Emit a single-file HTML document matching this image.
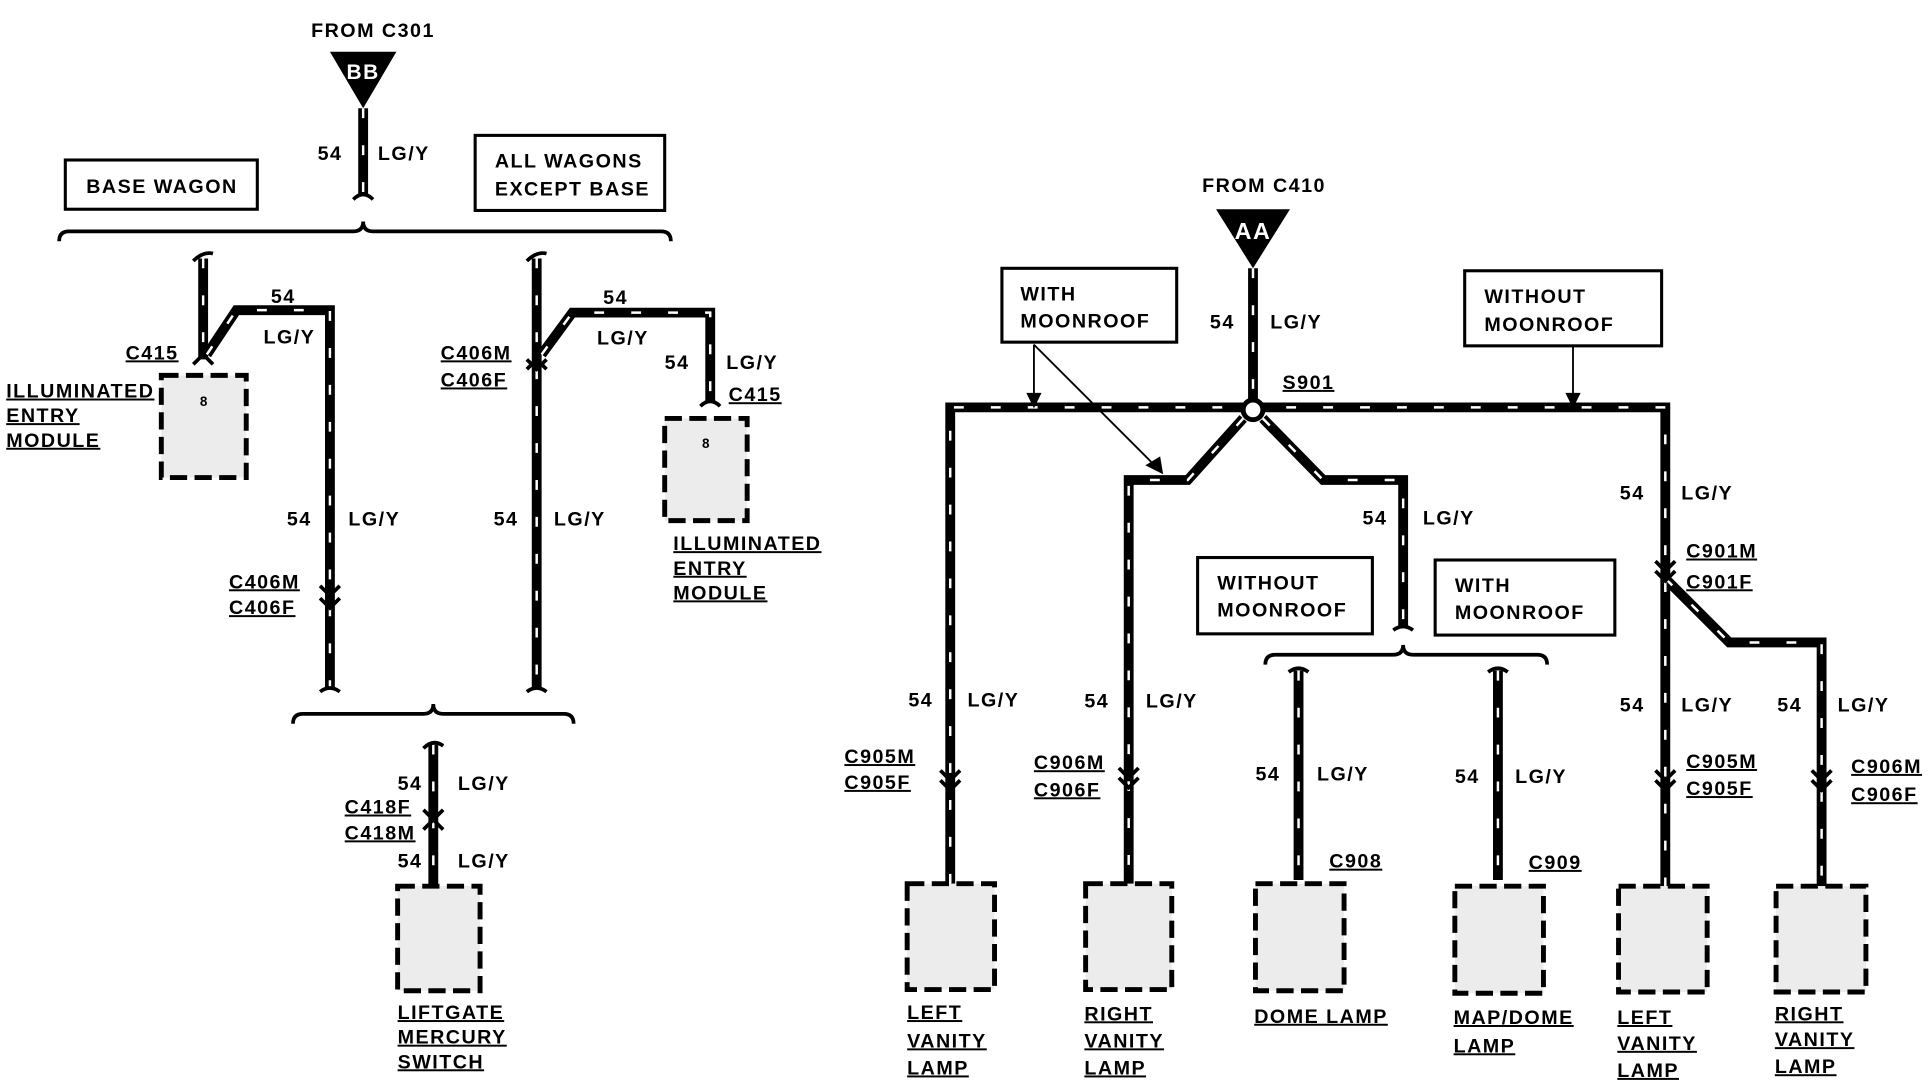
<!DOCTYPE html>
<html><head><meta charset="utf-8"><style>
html,body{margin:0;padding:0;background:#fff;}
svg{display:block;}
text{font-family:"Liberation Sans",Arial,sans-serif;font-weight:bold;font-size:16px;fill:#000;letter-spacing:1.2px;}
.u{text-decoration:underline;}
.w{fill:none;stroke:#000;stroke-width:8;stroke-linejoin:miter;}
.d{fill:none;stroke:#fff;stroke-width:2;stroke-dasharray:8 22;}
.bx{fill:#fff;stroke:#000;stroke-width:2.5;}
.m{fill:#ececec;stroke:#000;stroke-width:4;stroke-dasharray:14 6;}
.br{fill:none;stroke:#000;stroke-width:3;}
.c{fill:none;stroke:#000;stroke-width:3;}
</style></head><body>
<svg width="1930" height="1088" viewBox="0 0 1568 884" xmlns="http://www.w3.org/2000/svg">
<defs>
<path id="w1" d="M295,88 V158"/>
<path id="w2" d="M165,210 V292"/>
<path id="w3" d="M168,288 L192,252 H268 V560"/>
<path id="w4" d="M436,210 V560"/>
<path id="w5" d="M440,288 L465,254 H577 V326"/>
<path id="w6" d="M352,605 V720"/>
<path id="w7" d="M1018,218 V325"/>
<path id="w8" d="M772,718 V331 H1353 V720"/>
<path id="w9" d="M1010,340 L965,390 H917 V718"/>
<path id="w10" d="M1026,340 L1075,390 H1140 V510"/>
<path id="w11" d="M1055,545 V715"/>
<path id="w12" d="M1217,545 V715"/>
<path id="w13" d="M1353,470 L1405,522 H1480 V720"/>
</defs>
<g class="w"><use href="#w1"/><use href="#w2"/><use href="#w3"/><use href="#w4"/><use href="#w5"/><use href="#w6"/><use href="#w7"/><use href="#w8"/><use href="#w9"/><use href="#w10"/><use href="#w11"/><use href="#w12"/><use href="#w13"/></g>
<g class="d"><use href="#w1"/><use href="#w2"/><use href="#w3"/><use href="#w4"/><use href="#w5"/><use href="#w6"/><use href="#w7"/><use href="#w8"/><use href="#w9"/><use href="#w10"/><use href="#w11"/><use href="#w12"/><use href="#w13"/></g>

<g class="c">
<path d="M287,162 Q295,154 303,162"/>
<path d="M157,212 Q165,204 173,206"/>
<path d="M157,296 L165,288 L173,296"/>
<path d="M428,212 Q436,204 444,206"/>
<path d="M428,292 L436,300 L444,292 M428,300 L436,292 L444,300"/>
<path d="M569,330 Q577,322 585,330"/>
<path d="M260,476 L268,484 L276,476 M260,486 L268,494 L276,486"/>
<path d="M260,562 Q268,556 276,562 M428,562 Q436,556 444,562"/>
<path d="M344,608 Q352,600 360,606"/>
<path d="M344,658 L352,666 L360,658 M344,674 L352,666 L360,674"/>
<path d="M764,626 L772,634 L780,626 M764,634 L772,642 L780,634"/>
<path d="M909,624 L917,632 L925,624 M909,632 L917,640 L925,632"/>
<path d="M1132,512 Q1140,506 1148,512"/>
<path d="M1047,546 Q1055,540 1063,546 M1209,546 Q1217,540 1225,546"/>
<path d="M1345,456 L1353,464 L1361,456 M1345,464 L1353,472 L1361,464"/>
<path d="M1345,626 L1353,634 L1361,626 M1345,634 L1353,642 L1361,634"/>
<path d="M1472,626 L1480,634 L1488,626 M1472,634 L1480,642 L1488,634"/>
</g>

<polygon points="268,42 322,42 295,88" fill="#000"/>
<text x="295" y="64" text-anchor="middle" style="fill:#fff;font-size:17px">BB</text>
<polygon points="988,170 1048,170 1018,218" fill="#000"/>
<text x="1018" y="194" text-anchor="middle" style="fill:#fff;font-size:19px">AA</text>
<text x="303" y="30" text-anchor="middle">FROM C301</text>
<text x="1027" y="156" text-anchor="middle">FROM C410</text>

<path class="br" d="M48,196 Q48,188 56,188 H287 Q295,188 295,180 Q295,188 303,188 H537 Q545,188 545,196"/>
<path class="br" d="M238,588 Q238,580 246,580 H344 Q352,580 352,572 Q352,580 360,580 H458 Q466,580 466,588"/>
<path class="br" d="M1028,540 Q1028,532 1036,532 H1132 Q1140,532 1140,524 Q1140,532 1148,532 H1249 Q1257,532 1257,540"/>

<rect class="bx" x="53" y="130" width="156" height="40"/><text x="70" y="157">BASE WAGON</text>
<rect class="bx" x="386" y="110" width="154" height="61"/><text x="402" y="136">ALL WAGONS</text><text x="402" y="159">EXCEPT BASE</text>
<rect class="bx" x="814" y="218" width="142" height="60"/><text x="829" y="244">WITH</text><text x="829" y="266">MOONROOF</text>
<rect class="bx" x="1190" y="220" width="160" height="61"/><text x="1206" y="246">WITHOUT</text><text x="1206" y="269">MOONROOF</text>
<rect class="bx" x="973" y="453" width="142" height="62"/><text x="989" y="479">WITHOUT</text><text x="989" y="501">MOONROOF</text>
<rect class="bx" x="1166" y="455" width="146" height="61"/><text x="1182" y="481">WITH</text><text x="1182" y="503">MOONROOF</text>

<g stroke="#000" stroke-width="1.5" fill="#000">
<line x1="840" y1="280" x2="840" y2="322"/><polygon points="835,320 845,320 840,330"/>
<line x1="840" y1="280" x2="938" y2="378"/><polygon points="932,378 942,372 944,384"/>
<line x1="1278" y1="281" x2="1278" y2="322"/><polygon points="1273,320 1283,320 1278,330"/>
</g>
<circle cx="1018" cy="333" r="8" fill="#fff" stroke="#000" stroke-width="4"/>

<rect class="m" x="131" y="305" width="69" height="83"/><text x="166" y="330" text-anchor="middle" style="font-size:11px">8</text>
<rect class="m" x="540" y="340" width="67" height="83"/><text x="574" y="364" text-anchor="middle" style="font-size:11px">8</text>
<rect class="m" x="323" y="720" width="67" height="85"/>
<rect class="m" x="737" y="718" width="71" height="86"/>
<rect class="m" x="882" y="718" width="70" height="86"/>
<rect class="m" x="1020" y="718" width="72" height="87"/>
<rect class="m" x="1182" y="720" width="72" height="87"/>
<rect class="m" x="1315" y="720" width="72" height="86"/>
<rect class="m" x="1443" y="720" width="73" height="86"/>

<text x="258" y="130">54</text><text x="307" y="130">LG/Y</text>
<text x="220" y="246">54</text><text x="214" y="279">LG/Y</text>
<text x="102" y="292" class="u">C415</text>
<text x="5" y="323" class="u">ILLUMINATED</text><text x="5" y="343" class="u">ENTRY</text><text x="5" y="363" class="u">MODULE</text>
<text x="233" y="427">54</text><text x="283" y="427">LG/Y</text>
<text x="186" y="478" class="u">C406M</text><text x="186" y="499" class="u">C406F</text>
<text x="490" y="247">54</text><text x="485" y="280">LG/Y</text>
<text x="540" y="300">54</text><text x="590" y="300">LG/Y</text>
<text x="592" y="326" class="u">C415</text>
<text x="358" y="292" class="u">C406M</text><text x="358" y="314" class="u">C406F</text>
<text x="401" y="427">54</text><text x="450" y="427">LG/Y</text>
<text x="547" y="447" class="u">ILLUMINATED</text><text x="547" y="467" class="u">ENTRY</text><text x="547" y="487" class="u">MODULE</text>
<text x="323" y="642">54</text><text x="372" y="642">LG/Y</text>
<text x="280" y="661" class="u">C418F</text><text x="280" y="682" class="u">C418M</text>
<text x="323" y="705">54</text><text x="372" y="705">LG/Y</text>
<text x="323" y="828" class="u">LIFTGATE</text><text x="323" y="848" class="u">MERCURY</text><text x="323" y="868" class="u">SWITCH</text>

<text x="983" y="267">54</text><text x="1032" y="267">LG/Y</text>
<text x="1042" y="316" class="u">S901</text>
<text x="1107" y="426">54</text><text x="1156" y="426">LG/Y</text>
<text x="1316" y="406">54</text><text x="1366" y="406">LG/Y</text>
<text x="1370" y="453" class="u">C901M</text><text x="1370" y="478" class="u">C901F</text>
<text x="738" y="574">54</text><text x="786" y="574">LG/Y</text>
<text x="686" y="620" class="u">C905M</text><text x="686" y="641" class="u">C905F</text>
<text x="881" y="575">54</text><text x="931" y="575">LG/Y</text>
<text x="840" y="625" class="u">C906M</text><text x="840" y="647" class="u">C906F</text>
<text x="1020" y="634">54</text><text x="1070" y="634">LG/Y</text>
<text x="1080" y="705" class="u">C908</text>
<text x="1182" y="636">54</text><text x="1231" y="636">LG/Y</text>
<text x="1242" y="706" class="u">C909</text>
<text x="1316" y="578">54</text><text x="1366" y="578">LG/Y</text>
<text x="1370" y="624" class="u">C905M</text><text x="1370" y="646" class="u">C905F</text>
<text x="1444" y="578">54</text><text x="1493" y="578">LG/Y</text>
<text x="1504" y="628" class="u">C906M</text><text x="1504" y="651" class="u">C906F</text>

<text x="737" y="828" class="u">LEFT</text><text x="737" y="851" class="u">VANITY</text><text x="737" y="873" class="u">LAMP</text>
<text x="881" y="829" class="u">RIGHT</text><text x="881" y="851" class="u">VANITY</text><text x="881" y="873" class="u">LAMP</text>
<text x="1019" y="831" class="u">DOME LAMP</text>
<text x="1181" y="832" class="u">MAP/DOME</text><text x="1181" y="855" class="u">LAMP</text>
<text x="1314" y="832" class="u">LEFT</text><text x="1314" y="853" class="u">VANITY</text><text x="1314" y="875" class="u">LAMP</text>
<text x="1442" y="829" class="u">RIGHT</text><text x="1442" y="850" class="u">VANITY</text><text x="1442" y="872" class="u">LAMP</text>
</svg>
</body></html>
